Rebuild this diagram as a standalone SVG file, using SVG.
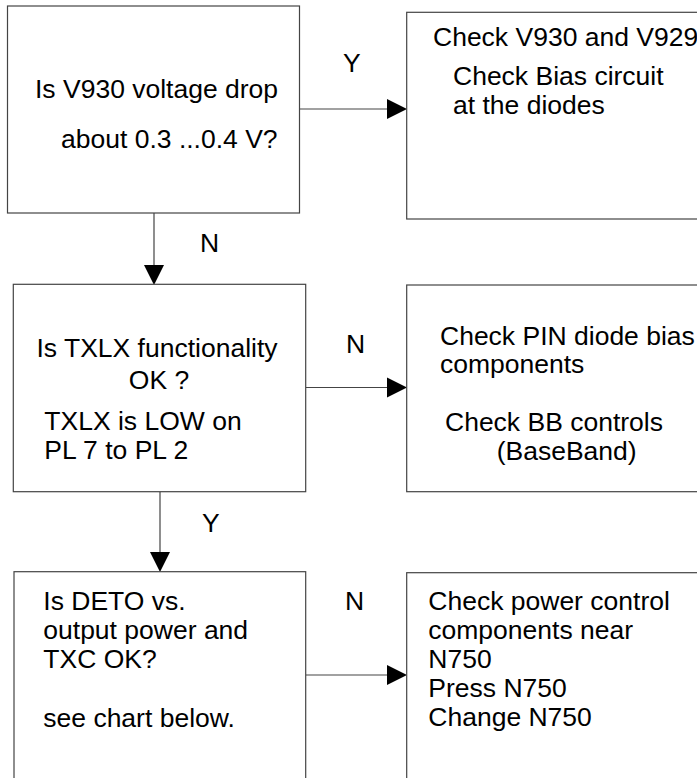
<svg xmlns="http://www.w3.org/2000/svg" width="697" height="778" viewBox="0 0 697 778">
<defs>
<style>
.box{fill:#fff;stroke:#444;stroke-width:1.2}
.ln{fill:none;stroke:#444;stroke-width:1.2}
.ah{fill:#000;stroke:none}
text{font-family:"Liberation Sans",Arial,sans-serif;font-size:26.5px;fill:#000}
</style>
</defs>
<rect width="697" height="778" fill="#fff"/>
<g id="connectors">
<line class="ln" x1="299.5" y1="109" x2="388" y2="109"/>
<polygon class="ah" points="387,99 407,109 387,119"/>
<text x="343" y="72">Y</text>
<line class="ln" x1="154" y1="213" x2="154" y2="266"/>
<polygon class="ah" points="144,265 164,265 154,285"/>
<text x="200" y="252">N</text>
<line class="ln" x1="305.7" y1="387.5" x2="388" y2="387.5"/>
<polygon class="ah" points="387,377.5 407,387.5 387,397.5"/>
<text x="346" y="353">N</text>
<line class="ln" x1="160" y1="491.7" x2="160" y2="553"/>
<polygon class="ah" points="150,552 170,552 160,572"/>
<text x="202" y="532">Y</text>
<line class="ln" x1="305.7" y1="675" x2="388" y2="675"/>
<polygon class="ah" points="387,665 407,675 387,685"/>
<text x="345" y="610">N</text>
</g>
<g id="n1">
<rect class="box" x="7.5" y="6" width="292" height="207"/>
<text x="35" y="98">Is V930 voltage drop</text>
<text x="61" y="148">about 0.3 ...0.4 V?</text>
</g>
<g id="n2">
<rect class="box" x="406.7" y="12.3" width="310" height="206.7"/>
<text x="433" y="45.5">Check V930 and V929</text>
<text x="453" y="85">Check Bias circuit</text>
<text x="453" y="113.5">at the diodes</text>
</g>
<g id="n3">
<rect class="box" x="13.3" y="284.3" width="292.4" height="207.4"/>
<text x="157" y="356.7" text-anchor="middle">Is TXLX functionality</text>
<text x="159" y="389" text-anchor="middle">OK ?</text>
<text x="44.3" y="430">TXLX is LOW on</text>
<text x="44.3" y="459.3">PL 7 to PL 2</text>
</g>
<g id="n4">
<rect class="box" x="406.7" y="285" width="310" height="206.7"/>
<text x="440" y="345">Check PIN diode bias</text>
<text x="440" y="373.3">components</text>
<text x="445" y="431">Check BB controls</text>
<text x="496.7" y="460">(BaseBand)</text>
</g>
<g id="n5">
<rect class="box" x="14" y="571.7" width="291.7" height="230"/>
<text x="43.3" y="610">Is DETO vs.</text>
<text x="43.3" y="639">output power and</text>
<text x="43.3" y="668.3">TXC OK?</text>
<text x="43.3" y="726.7">see chart below.</text>
</g>
<g id="n6">
<rect class="box" x="406.7" y="572.7" width="310" height="230"/>
<text x="428.3" y="610">Check power control</text>
<text x="428.3" y="639">components near</text>
<text x="428.3" y="668.3">N750</text>
<text x="428.3" y="696.7">Press N750</text>
<text x="428.3" y="725.7">Change N750</text>
</g>
</svg>
